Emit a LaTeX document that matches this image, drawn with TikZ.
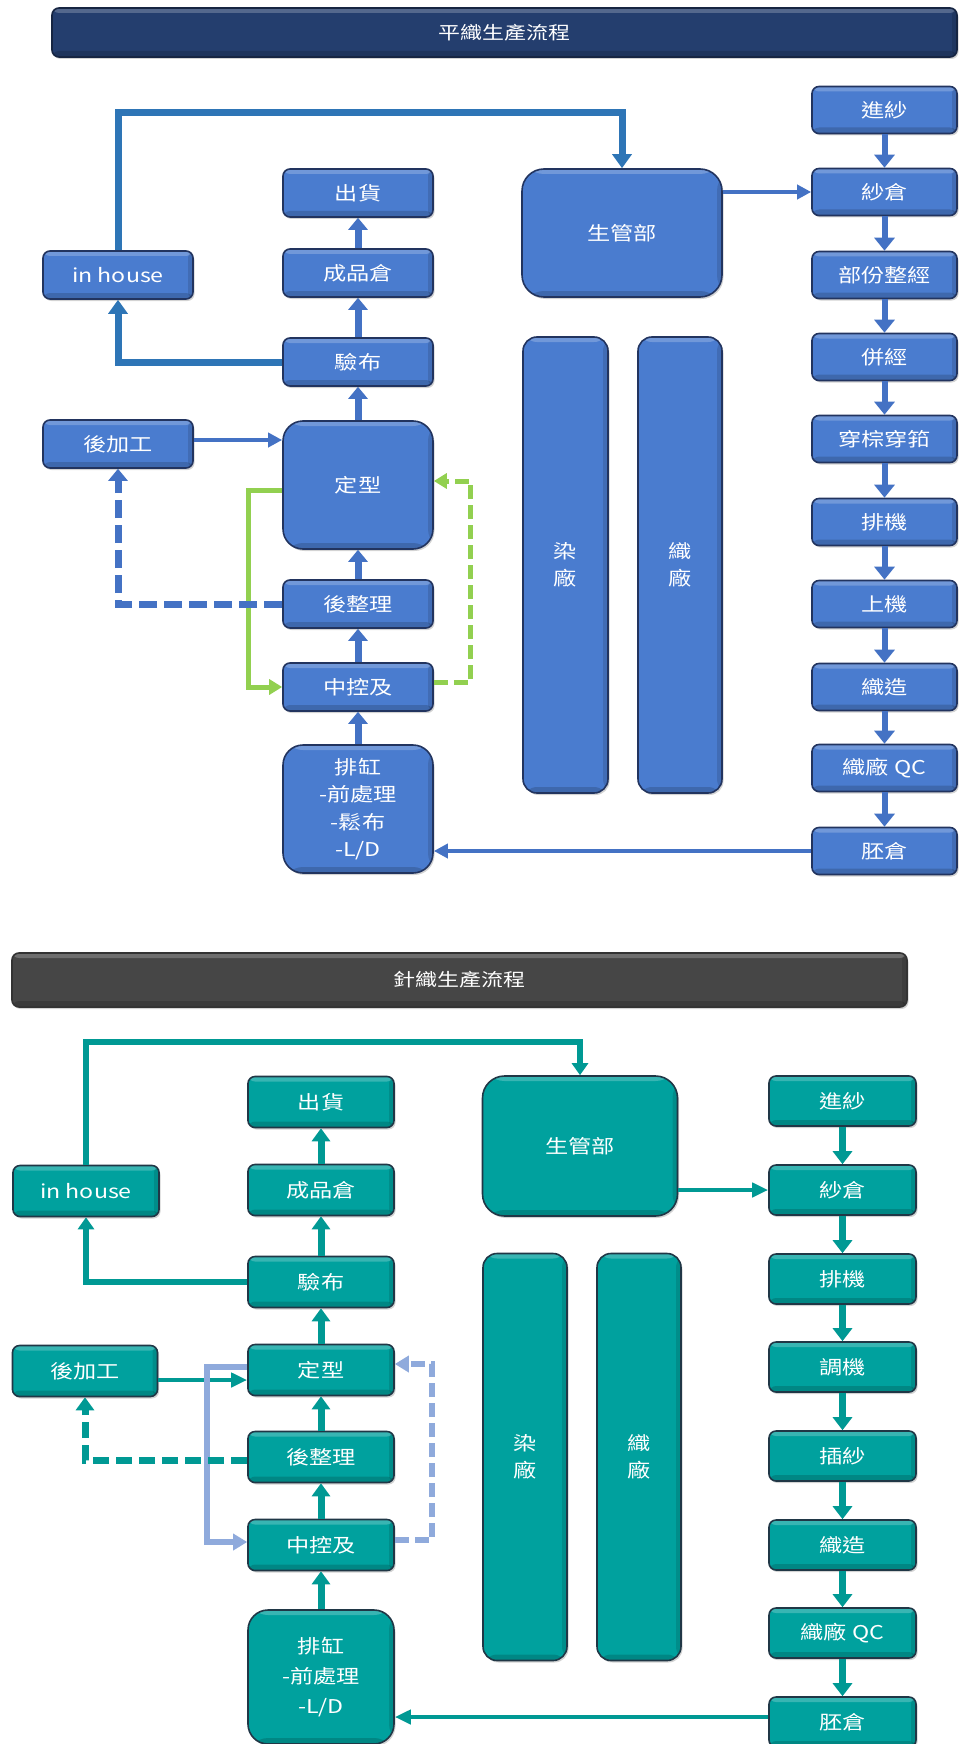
\documentclass[tikz,border=0pt]{standalone}
\usepackage{fontspec}
\newfontfamily\cjk[FakeStretch=1.22]{Noto Sans CJK TC}
\usetikzlibrary{arrows.meta,shadows}
\definecolor{tfill}{RGB}{74,124,207}
\definecolor{tedge}{RGB}{34,52,95}
\definecolor{tarrow}{RGB}{68,114,196}
\definecolor{tloop}{RGB}{46,117,182}
\definecolor{lgreen}{RGB}{146,208,80}
\definecolor{navy}{RGB}{36,62,110}
\definecolor{bfill}{RGB}{0,161,158}
\definecolor{bedge}{RGB}{32,55,70}
\definecolor{barrow}{RGB}{0,153,148}
\definecolor{lblue}{RGB}{143,170,220}
\definecolor{dgrey}{RGB}{70,70,70}
\tikzset{
  basebox/.style={rectangle, rounded corners=7pt, line width=1.6pt, text=white,
    font=\cjk\fontsize{19}{27.5}\selectfont, inner sep=0pt, align=center,
    drop shadow={shadow xshift=1.5pt, shadow yshift=-2pt, opacity=0.35},
    path picture={
      \fill[white, opacity=0.22] (path picture bounding box.north west) rectangle ([yshift=-5pt]path picture bounding box.north east);
      \fill[black, opacity=0.16] (path picture bounding box.south west) rectangle ([yshift=6pt]path picture bounding box.south east);
      \fill[black, opacity=0.12] (path picture bounding box.south east) rectangle ([xshift=-5pt]path picture bounding box.north east);
    }},
  tbox/.style={basebox, fill=tfill, draw=tedge},
  bbox/.style={basebox, fill=bfill, draw=bedge},
  tvert/.style={draw=tarrow, line width=7pt, -{Triangle[width=19pt,length=12pt]}},
  tthin/.style={draw=tarrow, line width=4.5pt, -{Triangle[width=14pt,length=14pt]}},
  tloopc/.style={draw=tloop, line width=7pt, -{Triangle[width=19pt,length=14pt]}},
  tgreen/.style={draw=lgreen, line width=5pt, -{Triangle[width=15pt,length=13pt]}},
  tdash/.style={draw=tarrow, line width=7pt, dash pattern=on 18pt off 7pt, -{Triangle[width=19pt,length=12pt]}},
  bvert/.style={draw=barrow, line width=7pt, -{Triangle[width=18pt,length=13pt]}},
  bthin/.style={draw=barrow, line width=4.5pt, -{Triangle[width=14pt,length=16pt]}},
  bloopc/.style={draw=barrow, line width=6pt, -{Triangle[width=16pt,length=12pt]}},
  blight/.style={draw=lblue, line width=6pt, -{Triangle[width=16pt,length=14pt]}},
  bdash/.style={draw=barrow, line width=7pt, dash pattern=on 16pt off 7pt, -{Triangle[width=18pt,length=13pt]}},
}
\begin{document}
\begin{tikzpicture}[x=1pt,y=-1pt]
\useasboundingbox (0,0) rectangle (958,1744);

% ---------- banners ----------
\node[basebox, fill=navy, draw=navy!60!black, minimum width=905pt, minimum height=49pt,
  font=\cjk\fontsize{18}{22}\selectfont] (ban1) at (504.5,32.5) {平織生產流程};
\node[basebox, fill=dgrey, draw=black!80, minimum width=895pt, minimum height=54pt,
  font=\cjk\fontsize{18}{22}\selectfont] (ban2) at (459.5,980) {針織生產流程};

% ---------- top section ----------
\begin{scope}[every node/.append style={tbox}]
\node[minimum width=150pt, minimum height=48pt] (tch) at (358,193) {出貨};
\node[minimum width=150pt, minimum height=48pt] (tcp) at (358,273) {成品倉};
\node[minimum width=150pt, minimum height=48pt] (tyb) at (358,362) {驗布};
\node[minimum width=150pt, minimum height=128pt, rounded corners=20pt] (tdx) at (358,485) {定型};
\node[minimum width=150pt, minimum height=48pt] (thz) at (358,604) {後整理};
\node[minimum width=150pt, minimum height=48pt] (tzk) at (358,687) {中控及};
\node[minimum width=150pt, minimum height=128pt, rounded corners=20pt] (tpg) at (358,809) {排缸\\-前處理\\-鬆布\\-L/D};
\node[minimum width=150pt, minimum height=48pt] (tih) at (118,275) {in house};
\node[minimum width=150pt, minimum height=48pt] (thj) at (118,444) {後加工};
\node[minimum width=200pt, minimum height=128pt, rounded corners=22pt] (tsg) at (622,233) {生管部};
\node[minimum width=85pt, minimum height=456pt, rounded corners=14pt] (trc) at (565.5,565) {染\\廠};
\node[minimum width=84pt, minimum height=456pt, rounded corners=14pt] (tzc) at (680,565) {織\\廠};
\node[minimum width=145pt, minimum height=47pt] (tr1) at (884.5,110) {進紗};
\node[minimum width=145pt, minimum height=47pt] (tr2) at (884.5,192) {紗倉};
\node[minimum width=145pt, minimum height=47pt] (tr3) at (884.5,275) {部份整經};
\node[minimum width=145pt, minimum height=47pt] (tr4) at (884.5,357) {併經};
\node[minimum width=145pt, minimum height=47pt] (tr5) at (884.5,439) {穿棕穿筘};
\node[minimum width=145pt, minimum height=47pt] (tr6) at (884.5,522) {排機};
\node[minimum width=145pt, minimum height=47pt] (tr7) at (884.5,604) {上機};
\node[minimum width=145pt, minimum height=47pt] (tr8) at (884.5,687) {織造};
\node[minimum width=145pt, minimum height=47pt] (tr9) at (884.5,768) {織廠 QC};
\node[minimum width=145pt, minimum height=47pt] (tr10) at (884.5,851) {胚倉};
\end{scope}

\coordinate (ty) at (0,113);
\draw[tloopc] (tih.north) |- (tsg.north |- ty) -- (tsg.north);
\draw[tloopc] (tyb.west) -| (tih.south);
\draw[tvert] (tcp.north) -- (tch.south);
\draw[tvert] (tyb.north) -- (tcp.south);
\draw[tvert] (tdx.north) -- (tyb.south);
\draw[tvert] (thz.north) -- (tdx.south);
\draw[tvert] (tzk.north) -- (thz.south);
\draw[tvert] (tpg.north) -- (tzk.south);
\draw[tthin] ([yshift=4pt]thj.east) -- ([yshift=4pt]thj.east -| tdx.west);
\draw[tgreen] ([yshift=-5pt]tdx.west) -- ++(-34,0) |- (tzk.west);
\draw[tgreen, dash pattern=on 14pt off 6pt] ([yshift=5pt]tzk.east) -- ++(37,0) |- ([yshift=4pt]tdx.east);
\draw[tdash] (thz.west) -| (thj.south);
\draw[tthin] (tr10.west) -- (tr10.west -| tpg.east);
\draw[tthin] (tr2.west -| tsg.east) -- (tr2.west);
\foreach \a/\b in {tr1/tr2,tr2/tr3,tr3/tr4,tr4/tr5,tr5/tr6,tr6/tr7,tr7/tr8,tr8/tr9,tr9/tr10}
  \draw[tvert, line width=6pt, -{Triangle[width=20pt,length=13pt]}] (\a.south) -- (\b.north);

% ---------- bottom section ----------
\begin{scope}[every node/.append style={bbox}]
\node[minimum width=146pt, minimum height=51pt] (bch) at (321,1102) {出貨};
\node[minimum width=146pt, minimum height=51pt] (bcp) at (321,1190) {成品倉};
\node[minimum width=146pt, minimum height=51pt] (byb) at (321,1282) {驗布};
\node[minimum width=146pt, minimum height=51pt] (bdx) at (321,1370) {定型};
\node[minimum width=146pt, minimum height=51pt] (bhz) at (321,1457) {後整理};
\node[minimum width=146pt, minimum height=51pt] (bzk) at (321,1545) {中控及};
\node[minimum width=146pt, minimum height=134pt, rounded corners=20pt, font=\cjk\fontsize{19}{30}\selectfont] (bpg) at (321,1677) {排缸\\-前處理\\-L/D};
\node[minimum width=146pt, minimum height=51pt] (bih) at (86,1191) {in house};
\node[minimum width=145pt, minimum height=51pt] (bhj) at (85,1371) {後加工};
\node[minimum width=195pt, minimum height=140pt, rounded corners=22pt] (bsg) at (580,1146) {生管部};
\node[minimum width=84pt, minimum height=407pt, rounded corners=14pt] (brc) at (525,1457) {染\\廠};
\node[minimum width=84pt, minimum height=407pt, rounded corners=14pt] (bzc) at (639,1457) {織\\廠};
\node[minimum width=147pt, minimum height=50pt] (br1) at (842.5,1101) {進紗};
\node[minimum width=147pt, minimum height=50pt] (br2) at (842.5,1190) {紗倉};
\node[minimum width=147pt, minimum height=50pt] (br3) at (842.5,1279) {排機};
\node[minimum width=147pt, minimum height=50pt] (br4) at (842.5,1367) {調機};
\node[minimum width=147pt, minimum height=50pt] (br5) at (842.5,1456) {插紗};
\node[minimum width=147pt, minimum height=50pt] (br6) at (842.5,1545) {織造};
\node[minimum width=147pt, minimum height=50pt] (br7) at (842.5,1633) {織廠 QC};
\node[minimum width=147pt, minimum height=50pt] (br8) at (842.5,1722) {胚倉};
\end{scope}

\coordinate (by) at (0,1042);
\draw[bloopc] (bih.north) |- (bsg.north |- by) -- (bsg.north);
\draw[bloopc] (byb.west) -| (bih.south);
\draw[bvert] (bcp.north) -- (bch.south);
\draw[bvert] (byb.north) -- (bcp.south);
\draw[bvert] (bdx.north) -- (byb.south);
\draw[bvert] (bhz.north) -- (bdx.south);
\draw[bvert] (bzk.north) -- (bhz.south);
\draw[bvert] (bpg.north) -- (bzk.south);
\draw[bthin] ([yshift=-9pt]bhj.east) -- ([yshift=-9pt]bhj.east -| bdx.west);
\draw[blight] ([yshift=3pt]bdx.west) -- ++(-40,0) |- ([yshift=3pt]bzk.west);
\draw[blight, dash pattern=on 14pt off 6pt] ([yshift=5pt]bzk.east) -- ++(37,0) |- ([yshift=6pt]bdx.east);
\draw[bdash] ([yshift=-3pt]bhz.west) -| (bhj.south);
\draw[bthin] ([yshift=5pt]br8.west) -- ([yshift=5pt]br8.west -| bpg.east);
\draw[bthin] (br2.west -| bsg.east) -- (br2.west);
\foreach \a/\b in {br1/br2,br2/br3,br3/br4,br4/br5,br5/br6,br6/br7,br7/br8}
  \draw[bvert, line width=7pt, -{Triangle[width=19pt,length=13pt]}] (\a.south) -- (\b.north);
\end{tikzpicture}
\end{document}
